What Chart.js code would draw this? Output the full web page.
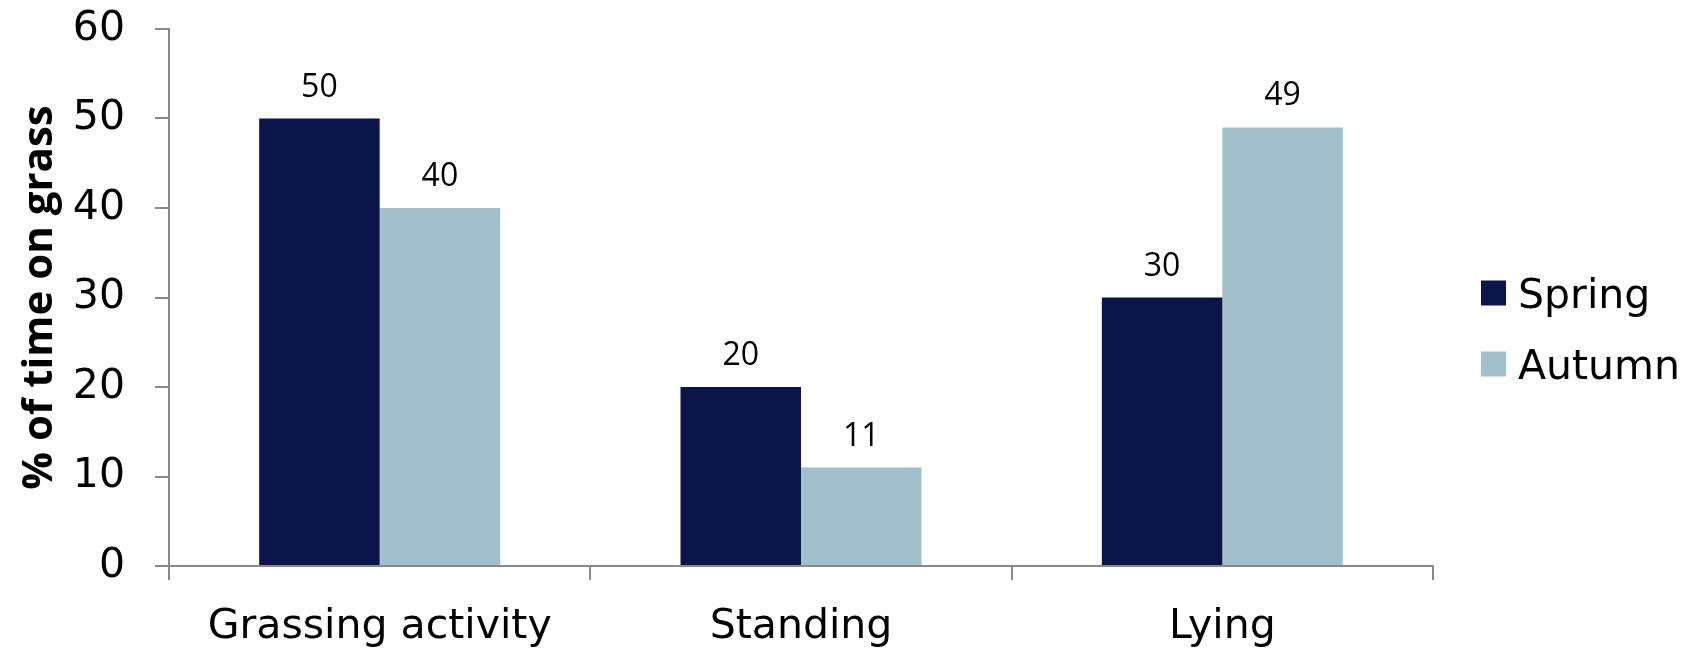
<!DOCTYPE html>
<html>
<head>
<meta charset="utf-8">
<script src="https://cdn.jsdelivr.net/npm/chart.js@4.4.1/dist/chart.umd.min.js"></script>
<style>
  html, body { margin: 0; padding: 0; background: #fff; }
  #wrap { width: 1698px; height: 653px; position: relative; }
</style>
</head>
<body>
<div id="wrap"><canvas id="chart"></canvas></div>
<script>
const categories = ['Grassing activity', 'Standing', 'Lying'];
const seriesNames = ['Spring', 'Autumn'];
const springValues = [50, 20, 30];
const autumnValues = [40, 11, 49];
const yTicks = [0, 10, 20, 30, 40, 50, 60];
const seriesColors = ['#0c1549', '#a2bfcc'];

const axisGrey = '#8a8a8a';
const tickFont = { family: '"DejaVu Sans"', size: 41 };

// numbers printed above each bar
const valueLabels = {
  id: 'valueLabels',
  afterDatasetsDraw(chart) {
    const ctx = chart.ctx;
    ctx.save();
    ctx.font = '32px "Open Sans"';
    ctx.fillStyle = '#000';
    ctx.textAlign = 'center';
    ctx.textBaseline = 'alphabetic';
    chart.data.datasets.forEach((ds, i) => {
      chart.getDatasetMeta(i).data.forEach((bar, j) => {
        ctx.fillText(String(ds.data[j]), bar.x, bar.y - 22);
      });
    });
    ctx.restore();
  }
};

// legend to the right of the plot, square swatches
const sideLegend = {
  id: 'sideLegend',
  afterDraw(chart) {
    const ctx = chart.ctx;
    const x = chart.chartArea.right + 48;
    const rowGap = 71;
    const n = chart.data.datasets.length;
    const firstY = chart.height / 2 + 2 - rowGap * (n - 1) / 2;
    ctx.save();
    ctx.font = tickFont.size + 'px ' + tickFont.family;
    ctx.textBaseline = 'alphabetic';
    ctx.textAlign = 'left';
    chart.data.datasets.forEach((ds, i) => {
      const cy = firstY + i * rowGap;
      ctx.fillStyle = ds.backgroundColor;
      ctx.fillRect(x, cy - 12.5, 25, 25);
      ctx.fillStyle = '#000';
      ctx.fillText(ds.label, x + 37, cy + 15);
    });
    ctx.restore();
  }
};

new Chart(document.getElementById('chart'), {
  type: 'bar',
  data: {
    labels: categories,
    datasets: [
      { label: seriesNames[0], data: springValues, backgroundColor: seriesColors[0] },
      { label: seriesNames[1], data: autumnValues, backgroundColor: seriesColors[1] }
    ]
  },
  options: {
    responsive: true,
    maintainAspectRatio: false,
    animation: false,
    layout: { padding: { left: 0, top: 29, right: 265, bottom: 0 } },
    datasets: {
      bar: { categoryPercentage: 0.572, barPercentage: 1, borderWidth: 0 }
    },
    plugins: {
      legend: { display: false },
      tooltip: { enabled: false }
    },
    scales: {
      x: {
        offset: true,
        grid: {
          display: true,
          offset: true,
          drawOnChartArea: false,
          tickLength: 14,
          color: axisGrey,
          lineWidth: 2
        },
        border: { color: axisGrey, width: 2 },
        ticks: { font: tickFont, color: '#000', padding: 23, maxRotation: 0 },
        afterFit: scale => { scale.height = 87; }
      },
      y: {
        min: yTicks[0],
        max: yTicks[yTicks.length - 1],
        afterBuildTicks: scale => { scale.ticks = yTicks.map(v => ({ value: v })); },
        grid: {
          display: true,
          drawOnChartArea: false,
          tickLength: 14,
          color: axisGrey,
          lineWidth: 2
        },
        border: { color: axisGrey, width: 2 },
        ticks: { font: tickFont, color: '#000', padding: 30 },
        title: {
          display: true,
          text: '% of time on grass',
          font: { family: '"Open Sans"', size: 42, weight: 'bold' },
          color: '#000',
          padding: { top: 15, bottom: 0 }
        },
        afterFit: scale => {
          scale.width = 169;
          // the plot top is set by layout padding alone
          scale.paddingTop = 0;
          scale.paddingBottom = 0;
        }
      }
    }
  },
  plugins: [valueLabels, sideLegend]
});
</script>
</body>
</html>
